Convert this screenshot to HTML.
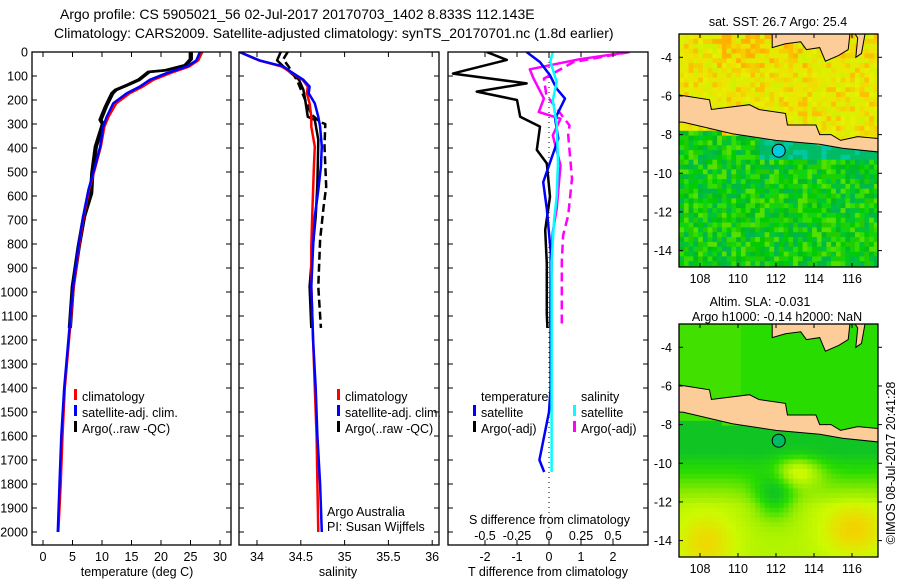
<!DOCTYPE html>
<html><head><meta charset="utf-8"><style>
html,body{margin:0;padding:0;background:#fff;}
svg{display:block;font-family:"Liberation Sans",sans-serif;}
text{fill:#000;}
</style></head><body>
<svg id="fig" width="900" height="580" viewBox="0 0 900 580" xmlns="http://www.w3.org/2000/svg">
<defs>
<clipPath id="c1"><rect x="32" y="52" width="199" height="493"/></clipPath>
<clipPath id="c2"><rect x="239" y="52" width="200" height="493"/></clipPath>
<clipPath id="c3"><rect x="448" y="52" width="200" height="493"/></clipPath>
<clipPath id="cm1"><rect x="679" y="34" width="199" height="233"/></clipPath>
<clipPath id="cm2"><rect x="679" y="324" width="199" height="233"/></clipPath>
</defs>
<text x="60" y="19" font-size="14">Argo profile: CS 5905021_56 02-Jul-2017 20170703_1402 8.833S 112.143E</text>
<text x="54" y="38" font-size="14">Climatology: CARS2009. Satellite-adjusted climatology: synTS_20170701.nc (1.8d earlier)</text>
<g id="p1" clip-path="url(#c1)"></g>
<g id="p2" clip-path="url(#c2)"></g>
<g id="p3" clip-path="url(#c3)"></g>
<g id="m1" clip-path="url(#cm1)"></g>
<g id="m2" clip-path="url(#cm2)"></g>
<g id="over"></g>
<g font-size="12.5">
<rect x="74" y="389" width="3" height="11" fill="#f00"/>
<text x="82" y="401">climatology</text>
<rect x="74" y="405" width="3" height="11" fill="#00f"/>
<text x="82" y="417">satellite-adj. clim.</text>
<rect x="74" y="421" width="3" height="11" fill="#000"/>
<text x="82" y="433">Argo(..raw -QC)</text>
<rect x="337" y="389" width="3" height="11" fill="#f00"/>
<text x="345" y="401">climatology</text>
<rect x="337" y="405" width="3" height="11" fill="#00f"/>
<text x="345" y="417">satellite-adj. clim.</text>
<rect x="337" y="421" width="3" height="11" fill="#000"/>
<text x="345" y="433">Argo(..raw -QC)</text>
<text x="481" y="401">temperature</text>
<rect x="473" y="405" width="3" height="11" fill="#00f"/>
<text x="481" y="417">satellite</text>
<rect x="473" y="421" width="3" height="11" fill="#000"/>
<text x="481" y="433">Argo(-adj)</text>
<text x="581" y="401">salinity</text>
<rect x="573" y="405" width="3" height="11" fill="#0ff"/>
<text x="581" y="417">satellite</text>
<rect x="573" y="421" width="3" height="11" fill="#f0f"/>
<text x="581" y="433">Argo(-adj)</text>
<text x="327" y="516">Argo Australia</text>
<text x="327" y="531">PI: Susan Wijffels</text>
<text x="469" y="524">S difference from climatology</text>
<text x="137" y="576" text-anchor="middle">temperature (deg C)</text>
<text x="338" y="576" text-anchor="middle">salinity</text>
<text x="548" y="576" text-anchor="middle">T difference from climatology</text>
<text x="778" y="26" text-anchor="middle">sat. SST: 26.7 Argo: 25.4</text>
<text x="760" y="306" text-anchor="middle">Altim. SLA: -0.031</text>
<text x="777" y="321" text-anchor="middle">Argo h1000: -0.14 h2000: NaN</text>
<text transform="translate(895,463) rotate(-90)" text-anchor="middle">©IMOS 08-Jul-2017 20:41:28</text>
</g>
</svg>
<script>
// ---- chart data ----
const depthTicks = [0,100,200,300,400,500,600,700,800,900,1000,1100,1200,1300,1400,1500,1600,1700,1800,1900,2000];
const tTicks = [0,5,10,15,20,25,30];
const sTicks = [34,34.5,35,35.5,36];
const tdTicks = [-2,-1,0,1,2];
const sdTicks = [-0.5,-0.25,0,0.25,0.5];
const sdTickLabels = ['-0.5','-0.25','0','0.25','0.5'];
const lonTicks = [108,110,112,114,116];
const latTicks = [-4,-6,-8,-10,-12,-14];

const satDepth = [0,35,60,88,116,144,172,214,270,311,394,478,575,686,811,978,1200,1400,1600,1800,2000];
const satTemp  = [26.6,26.0,24.4,21.0,18.1,16.4,14.2,11.9,10.8,10.2,9.7,8.8,7.7,6.8,6.0,5.1,4.3,3.6,3.1,2.8,2.5];
const climTemp = [27.0,26.3,24.8,21.6,18.7,16.9,14.7,12.4,11.1,10.4,9.8,8.9,7.8,6.9,6.1,5.2,4.4,3.7,3.3,3.0,2.6];
const argoDepth = [0,30,55,76,83,116,137,158,172,227,283,300,394,505,589,686,811,978,1150];
const argoTemp  = [25.2,25.2,24.3,21.0,18.1,16.4,14.5,12.5,11.9,10.8,9.9,10.3,9.1,8.5,8.3,7.1,6.2,5.2,4.7];

const satSal  = [33.8,34.03,34.30,34.41,34.53,34.60,34.59,34.66,34.70,34.72,34.74,34.73,34.70,34.66,34.64,34.62,34.64,34.67,34.69,34.72,34.74];
const climSal = [33.8,34.02,34.28,34.40,34.52,34.58,34.57,34.60,34.62,34.62,34.66,34.65,34.64,34.63,34.62,34.62,34.64,34.66,34.68,34.69,34.70];
const argoSDepth = [0,35,60,116,158,200,270,283,366,547,686,839,978,1150];
const argoSal   = [34.27,34.23,34.30,34.48,34.53,34.55,34.58,34.66,34.70,34.69,34.67,34.63,34.60,34.62];
const argoRawSDepth = [0,30,60,120,200,260,292,300,394,561,645,783,978,1150];
const argoRawSal = [34.35,34.30,34.36,34.46,34.55,34.62,34.72,34.78,34.77,34.79,34.76,34.72,34.70,34.73];

const tdArgoDepth = [0,33,82,90,131,165,200,270,311,408,464,603,742,881,1089,1150];
const tdArgo = [-1.95,-1.32,-2.78,-3.0,-0.7,-2.26,-1.0,-0.9,-0.28,-0.38,-0.07,0.03,-0.12,-0.07,-0.07,-0.05];
const tdSatDepth = [0,42,97,153,194,278,361,542,653,875,1100,1400,1500,1600,1700,1750];
const tdSat = [-0.7,-0.28,0.03,0.24,0.5,0.19,0.29,-0.18,-0.07,0.08,0.05,0.05,0.0,-0.15,-0.3,-0.15];
const sdSatDepth = [0,40,125,200,300,458,600,700,875,1200,1500,1750];
const sdSat = [0.03,0.01,0.06,0.03,0.06,0.07,0.06,0.04,0.02,0.02,0.02,0.02];
const sdArgoDepth = [0,30,72,111,194,250,278,347,472,653,750,861,1150];
const sdArgo = [0.63,0.24,-0.15,-0.12,-0.04,-0.08,0.09,0.03,0.09,0.06,0.03,0.01,0.01];
const sdArgoRawDepth = [0,42,111,180,306,347,528,681,764,875,1125,1150];
const sdArgoRaw = [0.63,0.19,-0.04,-0.02,0.16,0.15,0.18,0.15,0.11,0.10,0.10,0.10];

const argoLon = 112.143, argoLat = -8.833;

// ---- scales ----
const yD = d => 52 + d*0.24;
const xT = t => 43 + t*5.9;
const xS = s => 257 + (s-34)*87.6;
const xTd = v => 549 + v*32;
const xSd = v => 549 + v*128;
const mx = lon => 700 + (lon-108)*19;
const my = (lat,off) => 57.3 + (-4-lat)*19.33 + off;

const NS='http://www.w3.org/2000/svg';
function mk(tag, parent, attrs){const e=document.createElementNS(NS,tag);for(const k in attrs)e.setAttribute(k,attrs[k]);parent.appendChild(e);return e;}
const over=document.getElementById('over');

function line(g, xs, ds, xf, color, dash, name){
  const pts = xs.map((v,i)=>xf(v).toFixed(1)+','+yD(ds[i]).toFixed(1)).join(' ');
  const p = mk('polyline', g, {points:pts, fill:'none', stroke:color, 'stroke-width':2.5, 'stroke-linejoin':'round'});
  if(dash) p.setAttribute('stroke-dasharray', dash);
  
  
}
const p1=document.getElementById('p1'),p2=document.getElementById('p2'),p3=document.getElementById('p3');
line(p1, argoTemp.map(v=>v-0.3), argoDepth, xT, '#000', null, 'argo-raw-temperature-line');
line(p1, argoTemp, argoDepth, xT, '#000', null, 'argo-temperature-line');
line(p1, climTemp, satDepth, xT, '#f00', null, 'climatology-temperature-line');
line(p1, satTemp, satDepth, xT, '#00f', null, 'satellite-temperature-line');
line(p2, argoRawSal, argoRawSDepth, xS, '#000', '8,4', 'argo-raw-salinity-line');
line(p2, argoSal, argoSDepth, xS, '#000', null, 'argo-salinity-line');
line(p2, climSal, satDepth, xS, '#f00', null, 'climatology-salinity-line');
line(p2, satSal, satDepth, xS, '#00f', null, 'satellite-salinity-line');
const zl = mk('line', p3, {x1:xTd(0),x2:xTd(0),y1:yD(0),y2:545,stroke:'#000','stroke-width':1,'stroke-dasharray':'1,4'});


line(p3, tdArgo, tdArgoDepth, xTd, '#000', null, 't-diff-argo-line');
line(p3, sdArgoRaw, sdArgoRawDepth, xSd, '#f0f', '9,5', 's-diff-argo-raw-line');
line(p3, sdArgo, sdArgoDepth, xSd, '#f0f', null, 's-diff-argo-line');
line(p3, tdSat, tdSatDepth, xTd, '#00f', null, 't-diff-satellite-line');
line(p3, sdSat, sdSatDepth, xSd, '#0ff', null, 's-diff-satellite-line');

const panels=[[32,231,tTicks,xT,tTicks.map(String),'temperature'],[239,439,sTicks,xS,sTicks.map(String),'salinity'],[448,648,tdTicks,xTd,tdTicks.map(String),'t-diff']];
panels.forEach(([l,r,ticks,f,labels,nm])=>{
  const fr=mk('rect',over,{x:l,y:52,width:r-l,height:493,fill:'none',stroke:'#000','stroke-width':1.3});
  
  
  depthTicks.forEach(d=>{mk('line',over,{x1:l,x2:l+5,y1:yD(d),y2:yD(d),stroke:'#000'});mk('line',over,{x1:r-5,x2:r,y1:yD(d),y2:yD(d),stroke:'#000'});});
  ticks.forEach((t,i)=>{
    const x=f(t);
    mk('line',over,{x1:x,x2:x,y1:545,y2:540,stroke:'#000'});
    mk('line',over,{x1:x,x2:x,y1:52,y2:57,stroke:'#000'});
    const tx=mk('text',over,{x:x,y:561,'text-anchor':'middle','font-size':12.5});
    tx.textContent=labels[i];
    
    
  });
});
depthTicks.forEach(d=>{
  const tx=mk('text',over,{x:28,y:yD(d)+4.5,'text-anchor':'end','font-size':12.5});
  tx.textContent=String(d);
  
  
});
sdTicks.forEach((s,i)=>{
  const tx=mk('text',over,{x:xSd(s),y:540,'text-anchor':'middle','font-size':12.5});
  tx.textContent=sdTickLabels[i];
  
  
});

// ---- maps ----
function hash(i,j){let h=(i*374761393+j*668265263)|0;h=(h^(h>>>13))*1274126177|0;return ((h^(h>>>16))>>>0);}
const java=[[106.9,-5.95],[108.5,-6.2],[108.6,-6.7],[110.6,-6.45],[111.1,-6.7],[112.5,-6.9],[112.6,-7.5],[114.1,-7.5],[114.3,-8.0],[114.9,-8.0],[115.4,-8.3],[116.3,-8.1],[117.4,-8.2],[117.4,-8.9],[115.5,-8.7],[114.3,-8.5],[112,-8.3],[109.7,-7.95],[107.1,-7.35],[106.9,-7.35]];
const borneo=[[111.8,-2.7],[111.8,-3.5],[112.5,-3.3],[113.3,-3.2],[113.6,-3.6],[114.3,-3.5],[114.6,-4.2],[115.3,-3.9],[115.8,-3.6],[115.9,-2.7]];
const borneo2=[[116.1,-2.7],[116.3,-3.0],[116.2,-4.0],[116.5,-3.8],[116.7,-2.7]];
function drawLand(g,off){
  [java,borneo,borneo2].forEach(poly=>{
    const p=mk('polygon',g,{points:poly.map(([lo,la])=>mx(lo).toFixed(1)+','+my(la,off).toFixed(1)).join(' '),fill:'#fccc99',stroke:'#000','stroke-width':1});
    
    
  });
}
const m1=document.getElementById('m1'),m2=document.getElementById('m2');
const yell=['#e6f000','#f0dc00','#ddf000','#e8e800','#f4d000','#eee400','#d4f000','#e0ec00','#fcc000'];
const gre=['#00cc00','#11d411','#00bb22','#33dd00','#00b84a','#22cc00','#00c433','#55e000'];
function cscale(v){
  const stops=[[0,[0,180,60]],[0.3,[40,220,0]],[0.5,[140,235,0]],[0.7,[205,250,0]],[0.85,[240,215,0]],[1,[255,170,0]]];
  v=Math.max(0,Math.min(1,v));
  for(let k=1;k<stops.length;k++){if(v<=stops[k][0]){const [a,ca]=stops[k-1],[b,cb]=stops[k];const t=(v-a)/(b-a);return 'rgb('+ca.map((c,i)=>Math.round(c+(cb[i]-c)*t)).join(',')+')';}}
  return 'rgb(255,170,0)';
}
const step=0.25;
for(let i=0;i<43;i++){for(let j=0;j<50;j++){
  const lon=106.9+i*step, lat=-2.8-j*step;
  const north = lat > -7.6 + (lon-107)*(-0.1);
  const h=hash(i,j);
  let c1 = north ? yell[h%yell.length] : gre[h%gre.length];
  if(north && lat>-4.5 && lon>108.5 && lon<115 && h%4===0) c1='#ffb000';
  if(!north && lat>-9.2 && lon>111) c1 = (h%3===0)?'#00c8a0':'#00bb66';
  mk('rect',m1,{x:mx(lon).toFixed(1),y:my(lat,0).toFixed(1),width:5.2,height:5.2,fill:c1});
  let v = north? 0.3 : 0.12;
  if(!north){
    v += 0.5*Math.max(0,Math.min(1,(-lat-9.3)/2.8));
    v += 0.22*Math.exp(-((lon-108.2)**2+(lat+14)**2)/2.5) + 0.25*Math.exp(-((lon-116)**2/3+(lat+13.3)**2/2)) + 0.45*Math.exp(-((lon-113)**2/1.5+(lat+10.3)**2/0.6));
    v -= 0.4*Math.exp(-((lon-111.8)**2/1.2+(lat+11.6)**2/1.5));
  } else if(lon<110) v+=0.05;
  mk('rect',m2,{x:mx(lon).toFixed(1),y:my(lat,290).toFixed(1),width:5.2,height:5.2,fill:cscale(v)});
}}
drawLand(m1,0); drawLand(m2,290);
const a1=mk('circle',m1,{cx:mx(argoLon),cy:my(argoLat,0),r:6.5,fill:'#00ccdd',stroke:'#000','stroke-width':1});


const a2=mk('circle',m2,{cx:mx(argoLon),cy:my(argoLat,290),r:6.5,fill:'#00bb66',stroke:'#000','stroke-width':1});


[0,290].forEach((off)=>{
  const fr=mk('rect',over,{x:679,y:34+off,width:199,height:233,fill:'none',stroke:'#000','stroke-width':1.3});
  
  
  lonTicks.forEach(lo=>{
    mk('line',over,{x1:mx(lo),x2:mx(lo),y1:34+off,y2:38+off,stroke:'#000'});
    mk('line',over,{x1:mx(lo),x2:mx(lo),y1:267+off,y2:263+off,stroke:'#000'});
    const t=mk('text',over,{x:mx(lo),y:283+off,'text-anchor':'middle','font-size':12.5});
    t.textContent=String(lo);
    
    
  });
  latTicks.forEach(la=>{
    mk('line',over,{x1:679,x2:683,y1:my(la,off),y2:my(la,off),stroke:'#000'});
    mk('line',over,{x1:878,x2:882,y1:my(la,off),y2:my(la,off),stroke:'#000'});
    const t=mk('text',over,{x:672,y:my(la,off)+4.5,'text-anchor':'end','font-size':12.5});
    t.textContent=String(la);
    
    
  });
});
</script>
</body></html>
